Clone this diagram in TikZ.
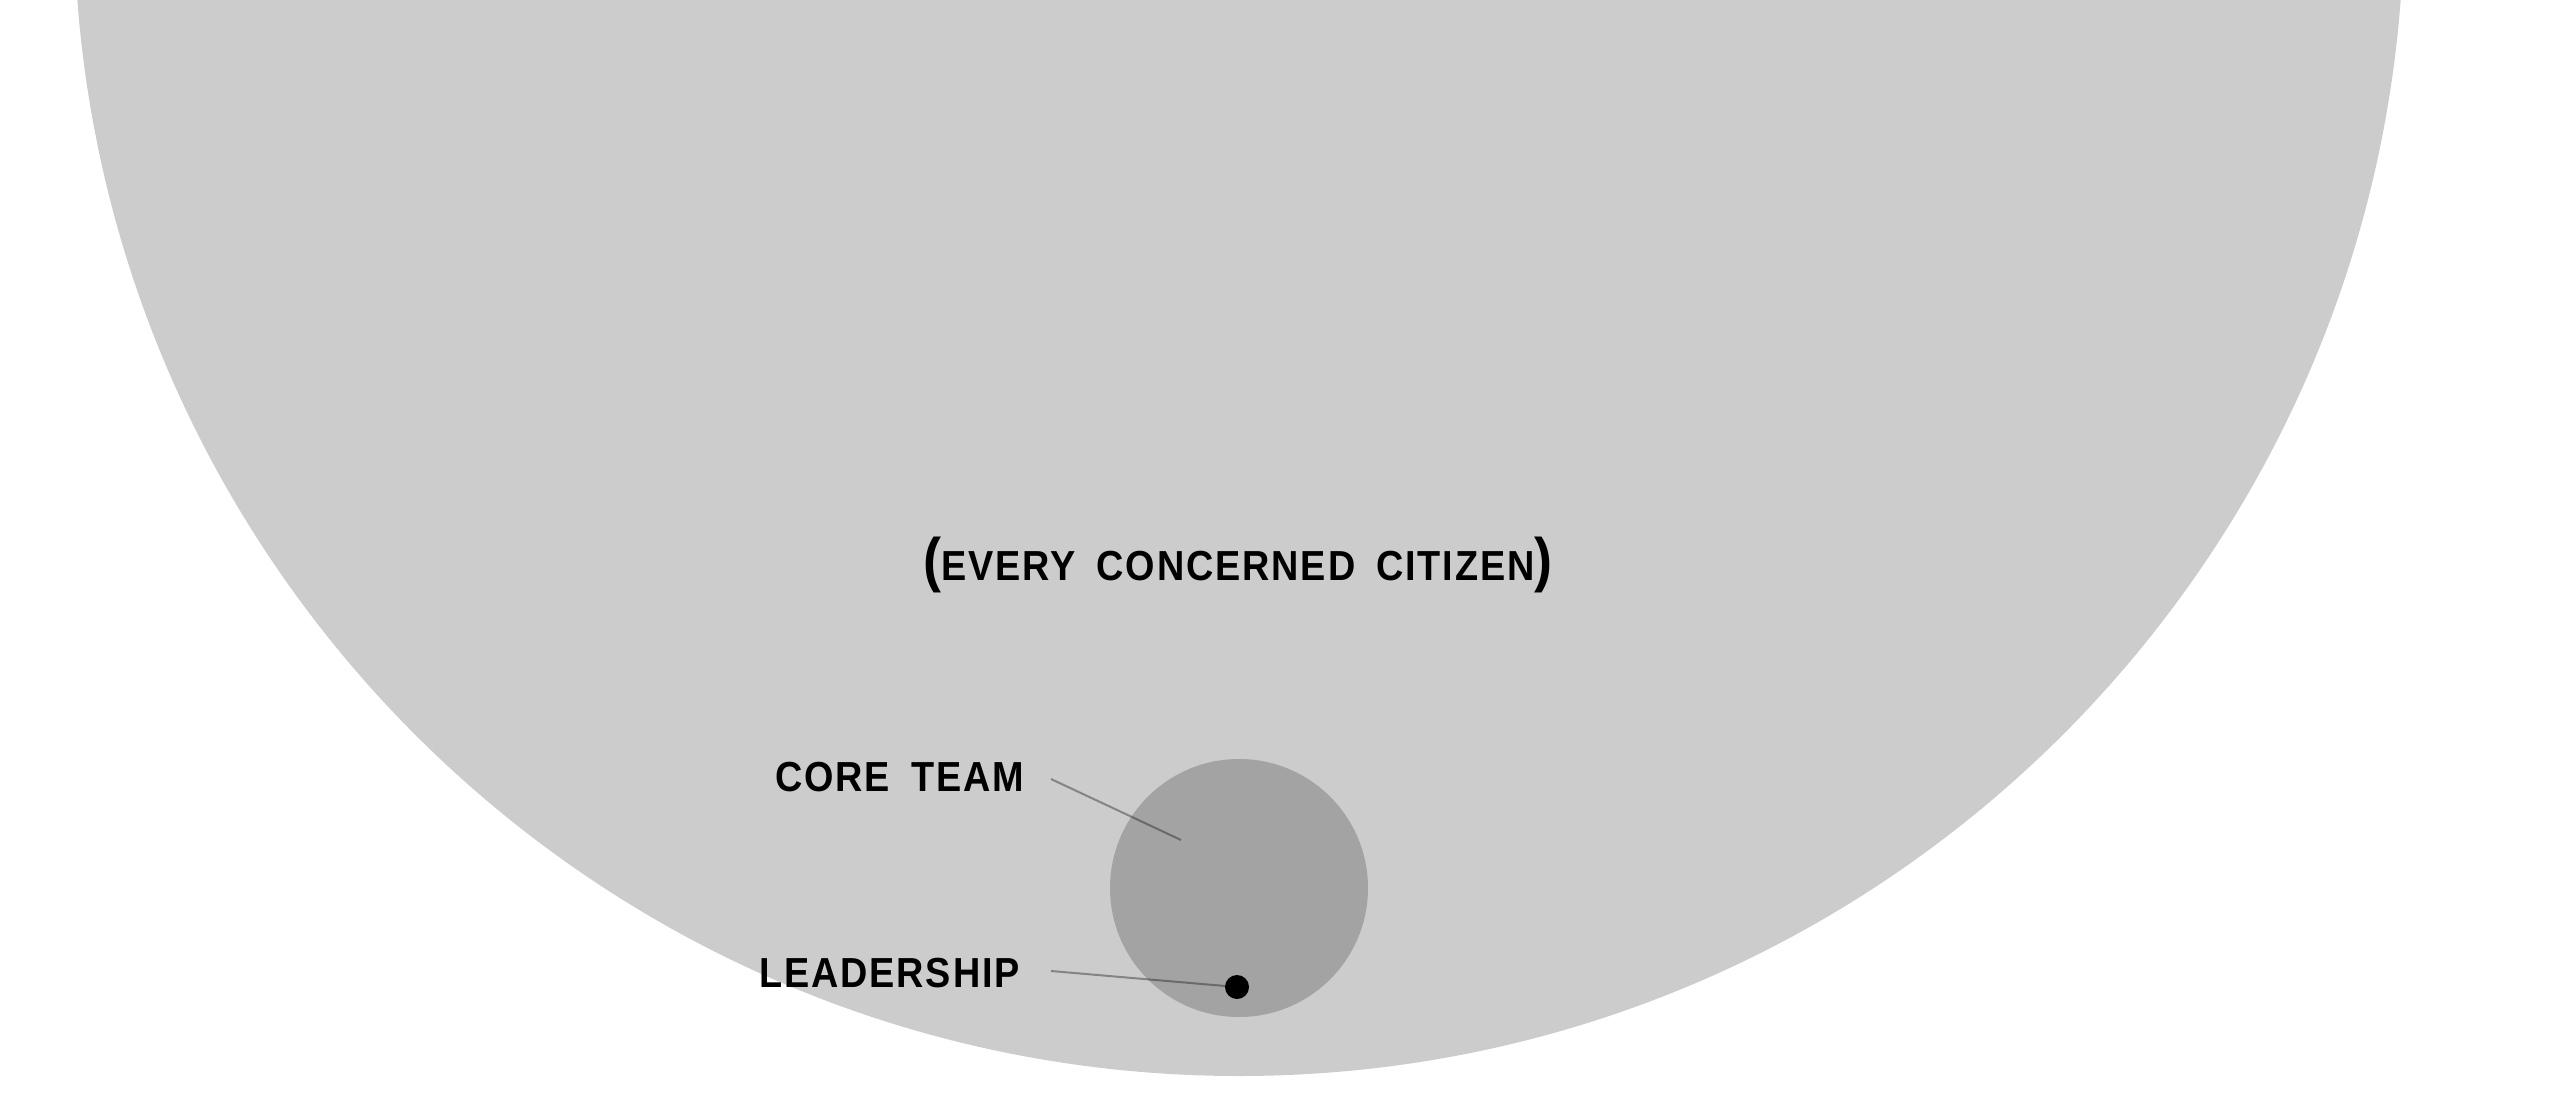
\documentclass[tikz,border=0pt]{standalone}
\usepackage{fontspec}
\newfontfamily\labelfont{Liberation Sans}[FakeStretch=0.9,LetterSpace=4.5,WordSpace=1.7]
\definecolor{crowdgray}{HTML}{CCCCCC}
\definecolor{coregray}{HTML}{A3A3A3}
\begin{document}
\begin{tikzpicture}[x=1pt,y=-1pt,
  tag/.style={font=\labelfont\bfseries\fontsize{42}{42}\selectfont, inner sep=0pt, anchor=base east},
  leader/.style={draw=black, draw opacity=0.35, line width=2pt},
  disc/.style={circle, inner sep=0pt}]
\useasboundingbox (0,0) rectangle (2567,1099);
% the whole public, a huge disc cut by the frame
\begin{scope}
  \clip (0,0) rectangle (2567,1099);
  \fill[crowdgray] (1239,-89) circle[radius=1165];
\end{scope}
% nested groups
\node[disc, fill=coregray, minimum size=258pt] (core) at (1239,888) {};
\coordinate (coreend) at (1181,840);
% labels
\node[font=\labelfont\bfseries\fontsize{42}{42}\selectfont, inner sep=0pt, anchor=base] (citizen) at (1238,580)
  {{\fontsize{60}{60}\selectfont(}EVERY CONCERNED CITIZEN{\fontsize{60}{60}\selectfont)}};
\node[tag] (coretxt) at (1024,791) {CORE TEAM};
\node[tag] (leadtxt) at (1020,987) {LEADERSHIP};
% leader lines
\draw[leader] ([xshift=27pt,yshift=12pt]coretxt.base east) -- (coreend);
\node[disc, minimum size=24pt] (lead) at (1237,987) {};
\draw[leader] ([xshift=31pt,yshift=16pt]leadtxt.base east) -- (lead.center);
\fill[black] (lead.center) circle[radius=12];
\end{tikzpicture}
\end{document}
